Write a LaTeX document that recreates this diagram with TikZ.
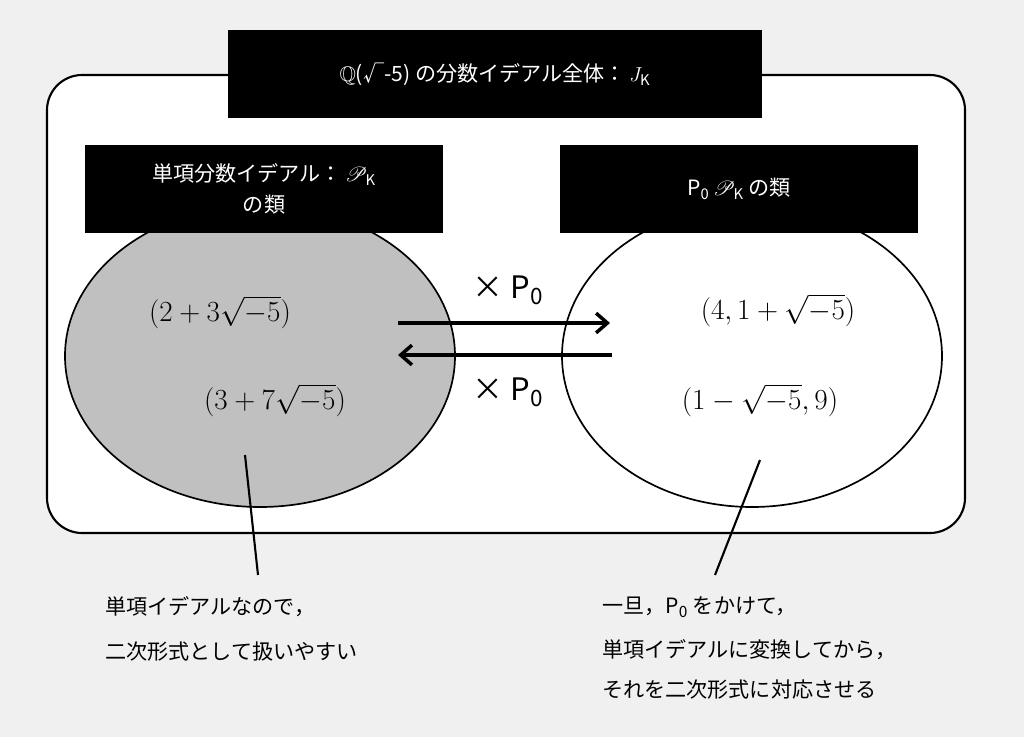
\documentclass[tikz,border=0pt]{standalone}
\usepackage{fontspec}
\usepackage{amsmath,amssymb,mathrsfs}
\newfontfamily\jp{Noto Sans CJK JP}
\usetikzlibrary{arrows.meta,shapes.geometric}
\begin{document}
\begin{tikzpicture}[x=0.025cm,y=-0.025cm,
  blk/.style={fill=black,text=white,inner sep=0pt,font=\jp\fontsize{15}{22}\selectfont,align=center},
  mth/.style={font=\fontsize{21}{24}\selectfont},
  lab/.style={anchor=west,font=\jp\fontsize{15}{20}\selectfont,inner sep=0pt},
  arr/.style={line width=2.5pt,-{Straight Barb[length=8pt,width=14pt]}}]
\fill[fill={rgb,255:red,240;green,240;blue,240}] (0,0) rectangle (1024,737);
\draw[line width=1.5pt,fill=white,rounded corners=25] (47,75) rectangle (965,533);
\node[draw=black,line width=1.2pt,fill={rgb,255:red,192;green,192;blue,192},ellipse,minimum width=390*0.025cm,minimum height=302*0.025cm,inner sep=0pt] (le) at (260,356) {};
\node[draw=black,line width=1.2pt,fill=white,ellipse,minimum width=380*0.025cm,minimum height=302*0.025cm,inner sep=0pt] (re) at (752,356) {};
\node[blk,minimum width=534*0.025cm,minimum height=88*0.025cm] (t) at (495,74) {$\mathbb{Q}$(√-5) の分数イデアル全体：\,$J_{\text{\jp K}}$};
\node[blk,minimum width=358*0.025cm,minimum height=88*0.025cm] (lt) at (264,189) {単項分数イデアル：\,$\mathscr{P}_{\text{\jp K}}$\\の類};
\node[blk,minimum width=358*0.025cm,minimum height=88*0.025cm] (rt) at (739,189) {P$_{\text{\jp 0}}$\,$\mathscr{P}_{\text{\jp K}}$ の類};
\coordinate (a1) at (398,323); \coordinate (a2) at (610,323);
\coordinate (b1) at (612,355); \coordinate (b2) at (398,355);
\draw[arr] (a1) -- (a2);
\draw[arr] (b1) -- (b2);
\node[font=\jp\fontsize{22}{24}\selectfont] (x1) at (508,290) {× P$_{\text{\jp\fontsize{16}{16}\selectfont 0}}$};
\node[font=\jp\fontsize{22}{24}\selectfont] (x2) at (508,392) {× P$_{\text{\jp\fontsize{16}{16}\selectfont 0}}$};
\node[mth] (m1) at (220,312) {$(2+3\sqrt{-5})$};
\node[mth] (m2) at (275,400) {$(3+7\sqrt{-5})$};
\node[mth] (m3) at (778,310) {$(4,1+\sqrt{-5})$};
\node[mth] (m4) at (760,400) {$(1-\sqrt{-5},9)$};
\coordinate (l1) at (245,455); \coordinate (l2) at (258,575);
\coordinate (r1) at (760,460); \coordinate (r2) at (715,575);
\draw[line width=1.5pt] (l1) -- (l2);
\draw[line width=1.5pt] (r1) -- (r2);
\node[lab] (t1) at (105,607) {単項イデアルなので，};
\node[lab] (t2) at (105,652) {二次形式として扱いやすい};
\node[lab] (t3) at (602,607) {一旦，P$_{\text{\jp\fontsize{11}{11}\selectfont 0}}$ をかけて，};
\node[lab] (t4) at (602,650) {単項イデアルに変換してから，};
\node[lab] (t5) at (602,690) {それを二次形式に対応させる};
\end{tikzpicture}
\end{document}
